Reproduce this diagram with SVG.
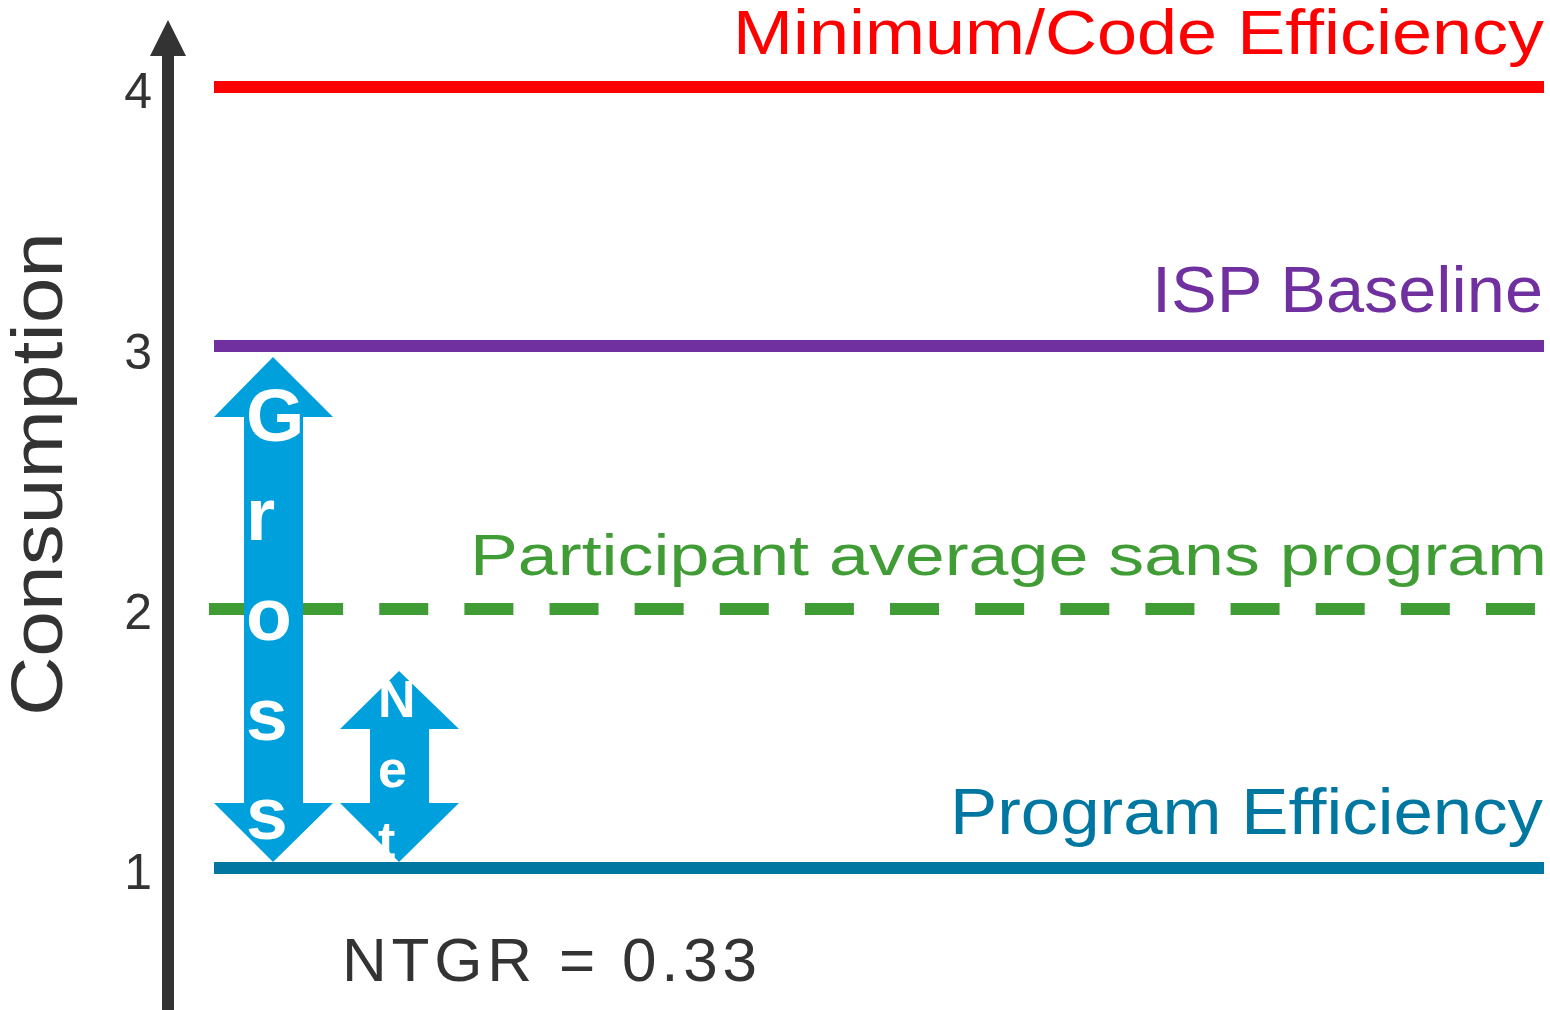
<svg xmlns="http://www.w3.org/2000/svg" width="1550" height="1010" viewBox="0 0 1550 1010">
<style>
text{font-family:"Liberation Sans",Arial,sans-serif}
.lbl{font-size:64px;text-anchor:end}
.tick{font-size:50px;fill:#333333;text-anchor:end}
.w{fill:#ffffff;font-weight:bold}
.arrow{fill:#00A0DC}
</style>
<rect width="1550" height="1010" fill="#ffffff"/>
<g id="connectors">
<line x1="209" y1="609" x2="1536" y2="609" stroke="#409C35" stroke-width="12" stroke-dasharray="49 36.13"/>
<line x1="214" y1="87" x2="1544" y2="87" stroke="#FF0000" stroke-width="12"/>
<line x1="214" y1="346" x2="1544" y2="346" stroke="#7030A0" stroke-width="12"/>
<line x1="214" y1="868" x2="1544" y2="868" stroke="#0077A0" stroke-width="12"/>
</g>
<g id="axis">
<rect x="162" y="55" width="12" height="955" fill="#333333"/>
<polygon points="168,20 186,56 150,56" fill="#333333"/>
<text class="tick" x="152" y="108">4</text>
<text class="tick" x="152" y="369">3</text>
<text class="tick" x="152" y="629">2</text>
<text class="tick" x="152" y="889">1</text>
<text transform="translate(62,474) rotate(-90)" font-size="72" fill="#333333" text-anchor="middle" textLength="484" lengthAdjust="spacingAndGlyphs">Consumption</text>
</g>
<g id="label-min">
<text class="lbl" x="1544" y="54" fill="#FF0000" textLength="811" lengthAdjust="spacingAndGlyphs" style="font-size:63px">Minimum/Code Efficiency</text>
</g>
<g id="label-isp">
<text class="lbl" x="1543" y="312" fill="#7030A0" textLength="391" lengthAdjust="spacingAndGlyphs">ISP Baseline</text>
</g>
<g id="label-participant">
<text class="lbl" x="1547" y="575" fill="#409C35" style="font-size:58px" textLength="1077" lengthAdjust="spacingAndGlyphs">Participant average sans program</text>
</g>
<g id="label-program">
<text class="lbl" x="1543" y="834" fill="#0077A0" textLength="593" lengthAdjust="spacingAndGlyphs">Program Efficiency</text>
</g>
<g id="gross">
<polygon class="arrow" points="273,357 333,417 303,417 303,803 333,803 273,862 214,803 244,803 244,417 214,417"/>
<text class="w" x="246" y="441" font-size="75">G</text>
<text class="w" x="246" y="540" font-size="75">r</text>
<text class="w" x="246" y="640" font-size="75">o</text>
<text class="w" x="246" y="740" font-size="75">s</text>
<text class="w" x="246" y="839" font-size="75">s</text>
</g>
<g id="net">
<polygon class="arrow" points="399,671 459,729 429,729 429,803 459,803 399,862 340,803 370,803 370,729 340,729"/>
<text class="w" x="378" y="717" font-size="52">N</text>
<text class="w" x="378" y="787" font-size="52">e</text>
<text class="w" x="378" y="858" font-size="52">t</text>
</g>
<g id="ntgr">
<text x="342" y="981" font-size="62" fill="#333333" textLength="415" lengthAdjust="spacing">NTGR = 0.33</text>
</g>
</svg>
